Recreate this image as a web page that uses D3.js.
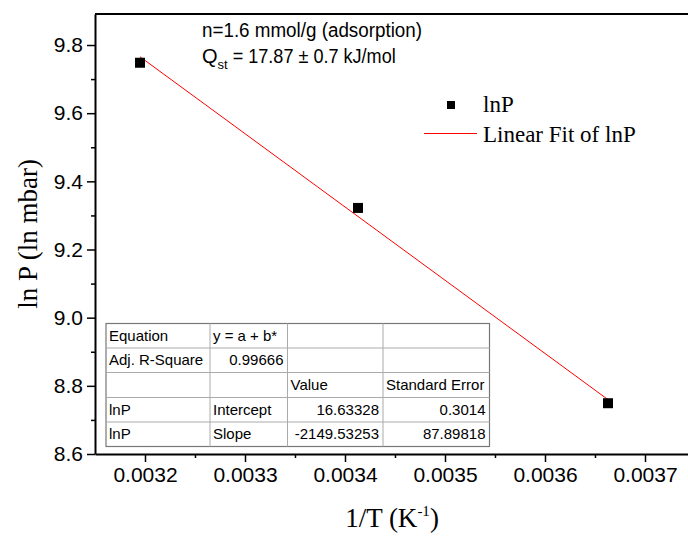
<!DOCTYPE html>
<html>
<head>
<meta charset="utf-8">
<script src="https://cdn.jsdelivr.net/npm/d3@7"></script>
<style>
  html, body { margin: 0; padding: 0; background: #fff; }
  svg { display: block; }
</style>
</head>
<body>
<svg id="chart" width="688" height="536"></svg>
<script>
// Clausius–Clapeyron plot: ln P versus 1/T at constant loading
const invT = [0.003195, 0.003413, 0.003663];   // 1/T (K^-1)
const lnP  = [9.748, 9.322, 8.749];             // ln P (ln mbar)

// Linear fit parameters
const fitIntercept = 16.63328;
const fitSlope = -2149.53253;

const xMajorTicks = [0.0032, 0.0033, 0.0034, 0.0035, 0.0036, 0.0037];
const xMinorTicks = [0.00325, 0.00335, 0.00345, 0.00355, 0.00365];
const yMajorTicks = [8.6, 8.8, 9.0, 9.2, 9.4, 9.6, 9.8];
const yMinorTicks = [8.7, 8.9, 9.1, 9.3, 9.5, 9.7];

const tableRows = [
  ["Equation", "y = a + b*", "", ""],
  ["Adj. R-Square", "0.99666", "", ""],
  ["", "", "Value", "Standard Error"],
  ["lnP", "Intercept", "16.63328", "0.3014"],
  ["lnP", "Slope", "-2149.53253", "87.89818"]
];

const svg = d3.select("#chart");
const plotL = 95, plotT = 14, plotR = 695, plotB = 454;

const x = d3.scaleLinear().domain([0.00315, 0.00375]).range([plotL, plotR]);
const y = d3.scaleLinear().domain([8.6, 9.891]).range([plotB, plotT]);

const sans = "'Liberation Sans', Arial, sans-serif";
const serif = "'Liberation Serif', 'Times New Roman', serif";

// Frame (top edge)
svg.append("line").attr("x1", plotL).attr("x2", plotR).attr("y1", plotT).attr("y2", plotT)
  .attr("stroke", "#000").attr("stroke-width", 2);

// X axis
const xAxis = svg.append("g").attr("transform", `translate(0,${plotB})`)
  .call(d3.axisBottom(x).tickValues(xMajorTicks).tickSize(8).tickPadding(5)
    .tickFormat(d3.format(".4f")).tickSizeOuter(0));
xAxis.select(".domain").attr("stroke-width", 2);
xAxis.selectAll(".tick line").attr("stroke-width", 1.5);
xAxis.selectAll("text").attr("font-family", sans).attr("font-size", 21).attr("fill", "#000");
svg.append("g").attr("transform", `translate(0,${plotB})`)
  .call(d3.axisBottom(x).tickValues(xMinorTicks).tickSize(4).tickFormat(""))
  .call(g => g.select(".domain").remove())
  .selectAll(".tick line").attr("stroke-width", 1.5);

// Y axis
const yAxis = svg.append("g").attr("transform", `translate(${plotL},0)`)
  .call(d3.axisLeft(y).tickValues(yMajorTicks).tickSize(8).tickPadding(4)
    .tickFormat(d3.format(".1f")).tickSizeOuter(0));
yAxis.select(".domain").attr("stroke-width", 2);
yAxis.selectAll(".tick line").attr("stroke-width", 1.5);
yAxis.selectAll("text").attr("font-family", sans).attr("font-size", 21).attr("fill", "#000");
svg.append("g").attr("transform", `translate(${plotL},0)`)
  .call(d3.axisLeft(y).tickValues(yMinorTicks).tickSize(4).tickFormat(""))
  .call(g => g.select(".domain").remove())
  .selectAll(".tick line").attr("stroke-width", 1.5);

// Axis titles
const xt = svg.append("text").attr("x", (plotL + plotR) / 2 - 3).attr("y", 527)
  .attr("text-anchor", "middle").attr("font-family", serif).attr("font-size", 27);
xt.append("tspan").text("1/T (K");
xt.append("tspan").attr("font-size", 15).attr("dy", -11).text("-1");
xt.append("tspan").attr("dy", 11).text(")");

svg.append("text").attr("transform", `translate(37,${(plotT + plotB) / 2}) rotate(-90)`)
  .attr("text-anchor", "middle").attr("font-family", serif).attr("font-size", 27)
  .text("ln P (ln mbar)");

// Fit line across the data range
const xr = d3.extent(invT);
svg.append("line")
  .attr("x1", x(xr[0])).attr("y1", y(fitIntercept + fitSlope * xr[0]))
  .attr("x2", x(xr[1])).attr("y2", y(fitIntercept + fitSlope * xr[1]))
  .attr("stroke", "#ff0000").attr("stroke-width", 1);

// Data points
const ms = 10;
svg.append("g").selectAll("rect").data(invT).join("rect")
  .attr("x", (d) => x(d) - ms / 2)
  .attr("y", (d, i) => y(lnP[i]) - ms / 2)
  .attr("width", ms).attr("height", ms).attr("fill", "#000");

// Annotation
svg.append("text").attr("x", 202).attr("y", 37)
  .attr("font-family", sans).attr("font-size", 20)
  .attr("textLength", 220).attr("lengthAdjust", "spacingAndGlyphs")
  .text("n=1.6 mmol/g (adsorption)");
const q = svg.append("text").attr("x", 202).attr("y", 63)
  .attr("font-family", sans).attr("font-size", 20);
q.append("tspan").text("Q");
q.append("tspan").attr("font-size", 13).attr("dy", 6).text("st");
q.append("tspan").attr("dy", -6)
  .attr("textLength", 168).attr("lengthAdjust", "spacingAndGlyphs")
  .text(" = 17.87 \u00B1 0.7 kJ/mol");

// Legend
svg.append("rect").attr("x", 447).attr("y", 101).attr("width", 8).attr("height", 8).attr("fill", "#000");
svg.append("text").attr("x", 483).attr("y", 112).attr("font-family", serif).attr("font-size", 23).text("lnP");
svg.append("line").attr("x1", 424).attr("x2", 477).attr("y1", 133.5).attr("y2", 133.5)
  .attr("stroke", "#ff0000").attr("stroke-width", 1);
svg.append("text").attr("x", 483).attr("y", 142).attr("font-family", serif).attr("font-size", 23).text("Linear Fit of lnP");

// Fit results table
const colX = [106, 210, 287.5, 383, 489.5];
const rowY = [323.5, 348, 372.5, 397.5, 422, 446.5];
const tbl = svg.append("g");
tbl.append("rect").attr("x", colX[0]).attr("y", rowY[0])
  .attr("width", colX[4] - colX[0]).attr("height", rowY[5] - rowY[0])
  .attr("fill", "#fff").attr("stroke", "#777").attr("stroke-width", 1.2);
colX.slice(1, 4).forEach(cx => tbl.append("line")
  .attr("x1", cx).attr("x2", cx).attr("y1", rowY[0]).attr("y2", rowY[5])
  .attr("stroke", "#aaa").attr("stroke-width", 1));
rowY.slice(1, 5).forEach(ry => tbl.append("line")
  .attr("x1", colX[0]).attr("x2", colX[4]).attr("y1", ry).attr("y2", ry)
  .attr("stroke", "#aaa").attr("stroke-width", 1));
const rightAligned = (r, c) => (r === 1 && c === 1) || (r >= 3 && c >= 2);
tableRows.forEach((row, r) => row.forEach((txt, c) => {
  if (!txt) return;
  const ra = rightAligned(r, c);
  tbl.append("text")
    .attr("x", ra ? colX[c + 1] - 4 : colX[c] + 3)
    .attr("y", rowY[r] + 17)
    .attr("text-anchor", ra ? "end" : "start")
    .attr("font-family", sans).attr("font-size", 15).text(txt);
}));
</script>
</body>
</html>
